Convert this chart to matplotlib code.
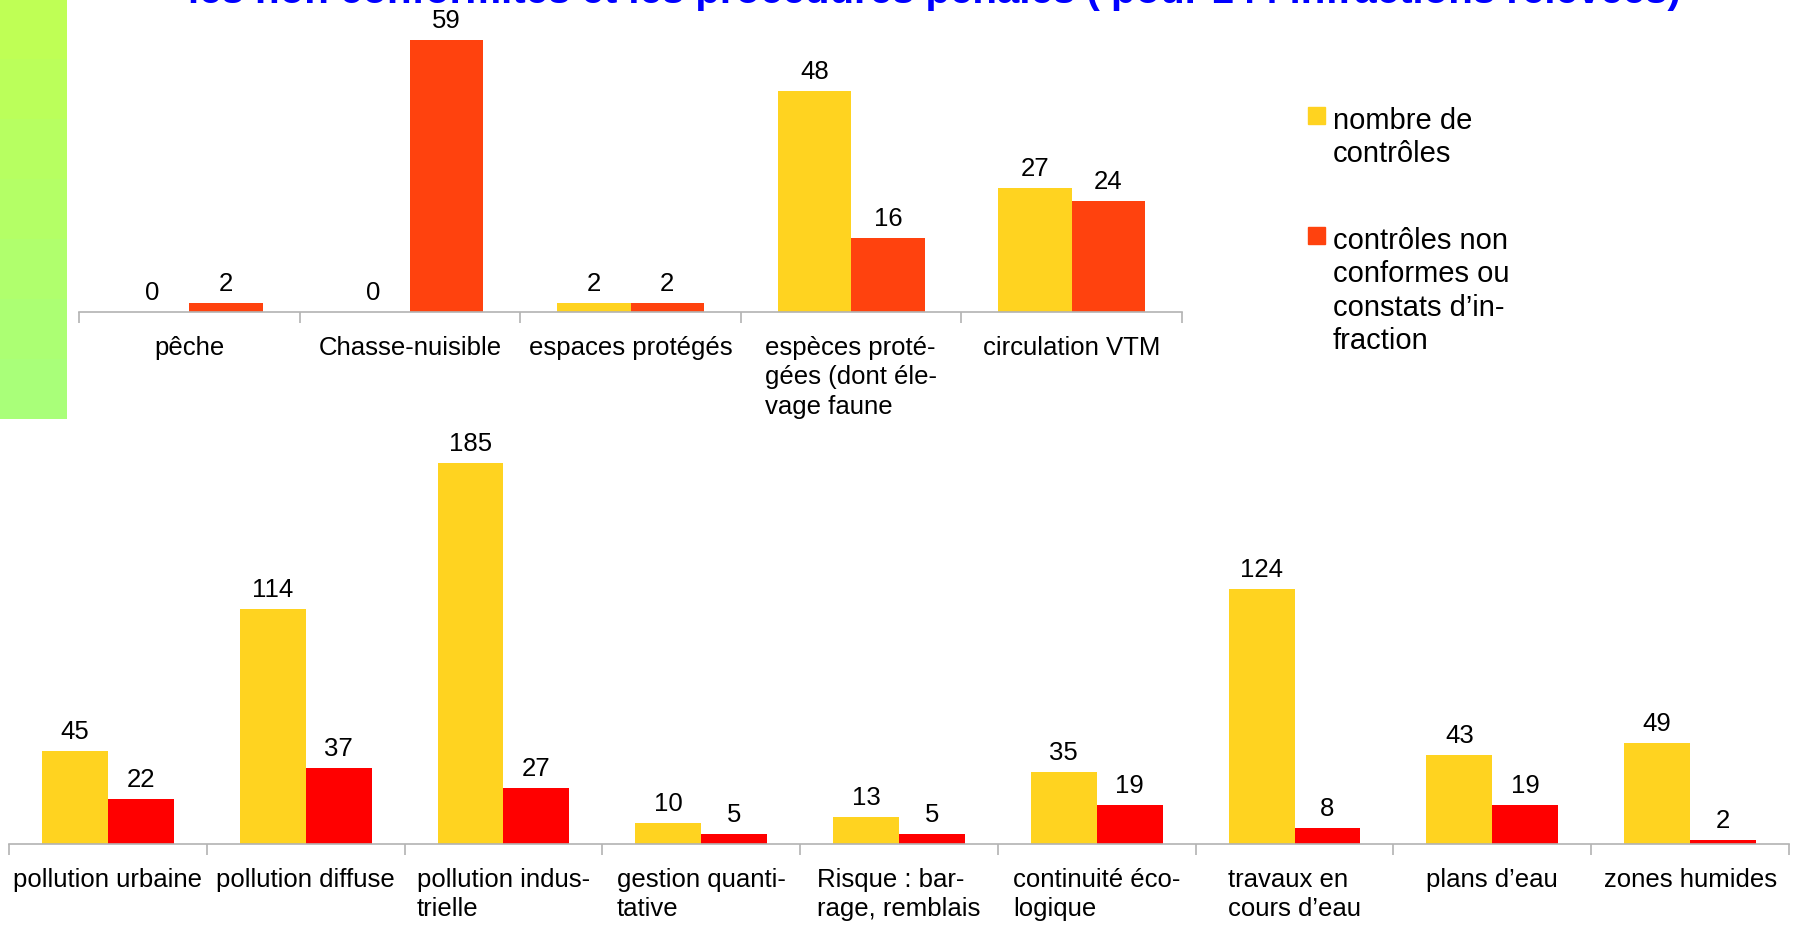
import numpy as np
import matplotlib.pyplot as plt
from matplotlib.patches import Rectangle

plt.rcParams['font.family'] = ['Liberation Sans', 'DejaVu Sans']

# top chart: nature / species controls
top_cats = ['pêche', 'Chasse-nuisible', 'espaces protégés',
            'espèces proté-\ngées (dont éle-\nvage faune', 'circulation VTM']
top_controles = [0, 0, 2, 48, 27]
top_non_conformes = [2, 59, 2, 16, 24]

# bottom chart: water controls
bot_cats = ['pollution urbaine', 'pollution diffuse', 'pollution indus-\ntrielle',
            'gestion quanti-\ntative', 'Risque : bar-\nrage, remblais',
            'continuité éco-\nlogique', 'travaux en\ncours d’eau', 'plans d’eau',
            'zones humides']
bot_controles = [45, 114, 185, 10, 13, 35, 124, 43, 49]
bot_non_conformes = [22, 37, 27, 5, 5, 19, 8, 19, 2]

legend_labels = ['nombre de\ncontrôles', 'contrôles non\nconformes ou\nconstats d’in-\nfraction']
title = 'les non conformités et les procédures pénales ( pour 144 infractions relevées)'

YELLOW = '#ffd320'
ORANGE = '#ff420e'
RED = '#ff0000'
GREY = '#b3b3b3'

W, H = 1793, 925
fig = plt.figure(figsize=(W / 100, H / 100), dpi=100)


def px_axes(x0, y0, x1, y1):
    # axes from pixel box (top-left origin)
    return fig.add_axes([x0 / W, 1 - y1 / H, (x1 - x0) / W, (y1 - y0) / H])


def grouped(ax, cats, s1, s2, c1, c2, ymax):
    x = np.arange(len(cats))
    b1 = ax.bar(x - 1 / 6, s1, width=1 / 3, color=c1)
    b2 = ax.bar(x + 1 / 6, s2, width=1 / 3, color=c2)
    for b in (b1, b2):
        ax.bar_label(b, padding=5, fontsize=18.5)
    ax.set_xlim(-0.5, len(cats) - 0.5)
    ax.set_ylim(0, ymax)
    ax.set_yticks([])
    for s in ('top', 'right', 'left'):
        ax.spines[s].set_visible(False)
    ax.spines['bottom'].set_color(GREY)
    ax.spines['bottom'].set_linewidth(1.2)
    ax.set_xticks(x)
    ax.set_xticklabels(cats, fontsize=18.5, multialignment='left', linespacing=1.3)
    ax.tick_params(axis='x', which='major', length=0, pad=17)
    ax.set_xticks(np.arange(len(cats) + 1) - 0.5, minor=True)
    ax.tick_params(axis='x', which='minor', length=8, color=GREY, width=1.2)
    ax.patch.set_visible(False)


# green strip on the left
strip = px_axes(0, 0, 67, 419)
grad = np.linspace(0, 1, 7).reshape(-1, 1)
strip.imshow(grad, aspect='auto', extent=(0, 1, 0, 1),
             cmap=plt.matplotlib.colors.LinearSegmentedColormap.from_list(
                 'g', ['#a9ff79', '#bfff55']), origin='lower')
strip.axis('off')

ax_top = px_axes(79, 0, 1182, 312)
grouped(ax_top, top_cats, top_controles, top_non_conformes, YELLOW, ORANGE, 312 / 4.61)

ax_bot = px_axes(9, 430, 1789, 844)
grouped(ax_bot, bot_cats, bot_controles, bot_non_conformes, YELLOW, RED, 414 / 2.06)

fig.text(934 / W, 1 - 3 / H, title, color='#0000ff', fontsize=29, fontweight='bold',
         ha='center', va='baseline')

# legend
for (y_sq, label, col) in [(107, legend_labels[0], YELLOW), (227, legend_labels[1], ORANGE)]:
    fig.patches.append(Rectangle((1308 / W, 1 - (y_sq + 17) / H), 17 / W, 17 / H,
                                 transform=fig.transFigure, color=col, figure=fig))
    fig.text(1333 / W, 1 - y_sq / H, label, fontsize=21, ha='left', va='top',
             linespacing=1.25)

fig.savefig('out.png', dpi=100)
